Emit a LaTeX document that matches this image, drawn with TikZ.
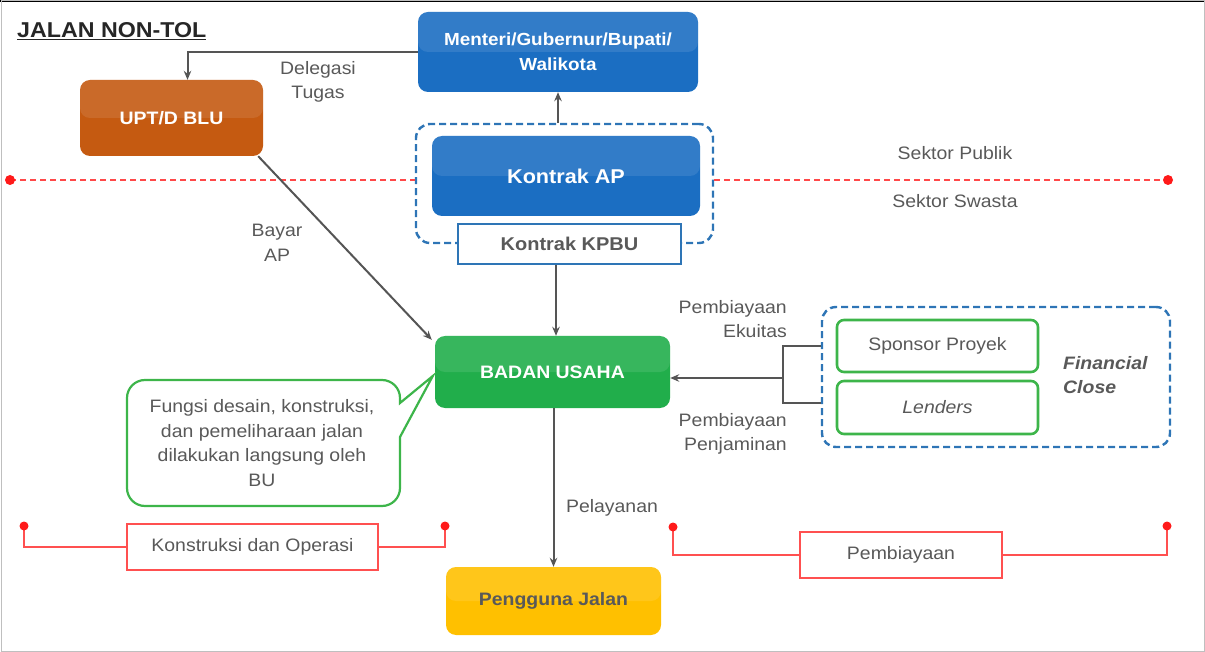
\documentclass[tikz,border=0pt]{standalone}
\usepackage{fontspec}
\setmainfont[FakeStretch=1.08]{Liberation Sans}
\usetikzlibrary{arrows.meta}
\definecolor{biru}{HTML}{1B6EC2}
\definecolor{birumuda}{HTML}{2E75B6}
\definecolor{oranye}{HTML}{C55A11}
\definecolor{hijau}{HTML}{21AE4B}
\definecolor{hijaugaris}{HTML}{3DB54A}
\definecolor{kuning}{HTML}{FFC000}
\definecolor{abu}{HTML}{595959}
\definecolor{garis}{HTML}{555555}
\definecolor{merah}{HTML}{FF1A1A}
\definecolor{merahmuda}{HTML}{FF5050}
\begin{document}
\begin{tikzpicture}[x=1pt,y=-1pt,>={Stealth[length=9pt,width=7.5pt]},
  kotak/.style={rounded corners=10pt,inner sep=0pt,align=center,text=white,
    font=\fontsize{18}{25}\selectfont\bfseries,
    path picture={\fill[white,opacity=0.1] (path picture bounding box.north west) rectangle (path picture bounding box.east);}},
  bingkai/.style={draw=birumuda,line width=2.4pt,dash pattern=on 7pt off 4pt,rounded corners=14pt,inner sep=0pt},
  kotakhijau/.style={draw=hijaugaris,fill=white,line width=2.6pt,rounded corners=7pt,inner sep=0pt,
    minimum width=201pt,minimum height=52pt,text=abu,font=\fontsize{18}{24}\selectfont},
  kotakmerah/.style={draw=merahmuda,fill=white,line width=1.8pt,inner sep=0pt,text=abu,font=\fontsize{18}{24}\selectfont},
  teks/.style={inner sep=0pt,align=center,text=abu,font=\fontsize{18}{24.5}\selectfont},
  panah/.style={draw=garis,line width=2pt,->},
  garisabu/.style={draw=garis,line width=2pt},
  sekat/.style={draw=merah!80,line width=2.4pt,dash pattern=on 6pt off 4pt},
  garismerah/.style={draw=merahmuda,line width=1.8pt}]
\useasboundingbox (0,0) rectangle (1205,652);
\draw[black,line width=2pt] (0,1) -- (1205,1);
\draw[gray!50,line width=1pt] (1,1) rectangle (1204,651);

% judul
\node[anchor=west,inner sep=0pt,font=\fontsize{21.5}{24}\selectfont\bfseries,text=black!85] (judul) at (17,31) {\underline{JALAN NON-TOL}};

% sektor publik / swasta
\node[bingkai,minimum width=297pt,minimum height=119pt] (apbox) at (564.5,183.5) {};
\coordinate (sl) at (10,180);
\coordinate (sr) at (1168,180);
\draw[sekat] (sl) -- (apbox.west |- sl);
\draw[sekat] (apbox.east |- sr) -- (sr);
\fill[merah] (sl) circle (5pt);
\fill[merah] (sr) circle (5pt);
\node[teks] (publik) at (955,153) {Sektor Publik};
\node[teks] (swasta) at (955,201) {Sektor Swasta};

% kotak utama
\node[kotak,fill=biru,minimum width=280pt,minimum height=80pt,font=\fontsize{17.5}{25}\selectfont\bfseries] (menteri) at (558,52) {Menteri/Gubernur/Bupati/\\Walikota};
\node[kotak,fill=oranye,minimum width=183pt,minimum height=76pt] (upt) at (171.5,118) {UPT/D BLU};
\node[kotak,fill=biru,minimum width=268pt,minimum height=80pt,font=\fontsize{20}{24}\selectfont\bfseries] (ap) at (566,176) {Kontrak AP};
\node[draw=birumuda,fill=white,line width=1.4pt,inner sep=0pt,minimum width=223pt,minimum height=40pt,text=abu,font=\fontsize{18.5}{22}\selectfont\bfseries] (kpbu) at (569.5,244) {Kontrak KPBU};
\node[kotak,fill=hijau,minimum width=235pt,minimum height=72pt] (bu) at (552.5,372) {BADAN USAHA};
\node[kotak,fill=kuning,text=abu,minimum width=215pt,minimum height=68pt] (pengguna) at (553.5,601) {Pengguna Jalan};

% panah
\draw[panah] (menteri.west) -| ([xshift=16pt]upt.north);
\draw[panah] (apbox.north -| menteri.south) -- (menteri.south);
\draw[panah] ([xshift=3.5pt]bu.north |- kpbu.south) -- ([xshift=3.5pt]bu.north);
\draw[panah] ([xshift=-5pt]upt.south east) -- ([shift={(-3pt,-4pt)}]bu.north west);
\draw[panah] (bu.south -| pengguna.north) -- (pengguna.north);
\node[teks] (delegasi) at (318,82) {Delegasi\\Tugas};
\node[teks] (bayar) at (277,243) {Bayar\\AP};
\node[teks] (pelayanan) at (612,508) {Pelayanan};

% pembiayaan
\node[bingkai,minimum width=348pt,minimum height=140pt] (fin) at (996,377) {};
\node[kotakhijau] (sponsor) at (937.5,346) {Sponsor Proyek};
\node[kotakhijau,minimum height=53pt] (lenders) at (937.5,407.5) {\textit{Lenders}};
\node[teks,anchor=west,align=left,font=\fontsize{18}{24}\selectfont\bfseries\itshape] (close) at (1063,375) {Financial\\Close};
\coordinate (cabang) at (783,378);
\coordinate (ujungbawah) at ([yshift=5pt]lenders.west);
\draw[garisabu] (fin.west |- sponsor) -| (cabang) |- (fin.west |- ujungbawah);
\draw[panah] (cabang) -- (bu.east |- cabang);
\node[teks,anchor=east,align=right] (ekuitas) at (787,319) {Pembiayaan\\Ekuitas};
\node[teks,anchor=east,align=right] (penjaminan) at (787,434) {Pembiayaan\\Penjaminan};

% keterangan BU
\draw[hijaugaris,line width=2.2pt,fill=white] (127,440) [rounded corners=18pt] -- (127,380) -- (400,380)
  [sharp corners] -- (400,403) -- ([shift={(-2pt,-4pt)}]bu.west) -- (400,437) [rounded corners=18pt] -- (400,506) -- (127,506) -- cycle;
\node[teks] (fungsi) at (262,443) {Fungsi desain, konstruksi,\\dan pemeliharaan jalan\\dilakukan langsung oleh\\BU};

% konstruksi dan operasi / pembiayaan
\coordinate (kiri1) at (24,526);
\coordinate (kiri2) at (445,526);
\node[kotakmerah,minimum width=251pt,minimum height=46pt] (konstruksi) at (252.5,547) {Konstruksi dan Operasi};
\draw[garismerah] (kiri1) |- (konstruksi.west);
\draw[garismerah] (konstruksi.east) -| (kiri2);
\coordinate (kanan1) at (673,527);
\coordinate (kanan2) at (1167,526);
\node[kotakmerah,minimum width=202pt,minimum height=46pt] (pembiayaan) at (901,555) {Pembiayaan};
\draw[garismerah] (kanan1) |- (pembiayaan.west);
\draw[garismerah] (pembiayaan.east) -| (kanan2);
\foreach \titik in {kiri1,kiri2,kanan1,kanan2}
  \fill[merah] (\titik) circle (4.5pt);
\end{tikzpicture}
\end{document}
